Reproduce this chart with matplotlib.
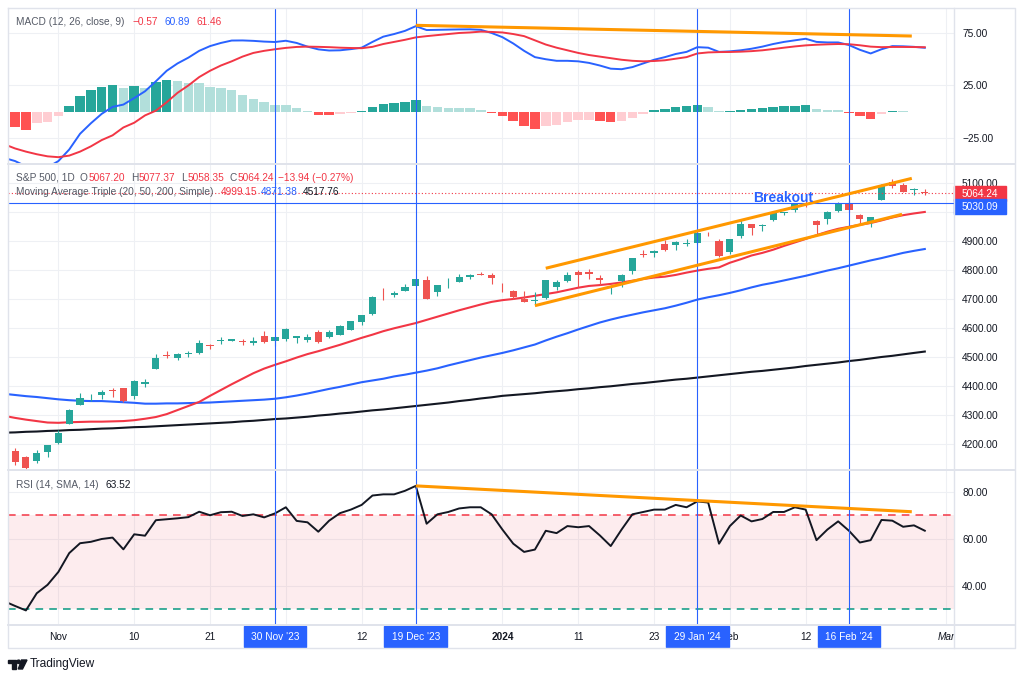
from __future__ import annotations

import matplotlib

matplotlib.use("Agg")
import matplotlib.pyplot as plt
import matplotlib.transforms as mtransforms
import pandas as pd
from matplotlib.patches import Circle, Polygon, Rectangle

plt.rcParams["font.family"] = ["Liberation Sans", "DejaVu Sans"]

# ---------------- data ----------------
holidays = ["2023-11-23", "2023-12-25", "2024-01-01", "2024-01-15", "2024-02-19"]
trading_days = [
    d for d in pd.bdate_range("2023-10-25", "2024-03-01").strftime("%Y-%m-%d") if d not in holidays
]

opens = [4232.42, 4175.99, 4152.93, 4139.39, 4171.33, 4201.27, 4268.26, 4334.23, 4364.27, 4366.21,
         4384.37, 4391.41, 4364.15, 4406.66, 4458.97, 4505.30, 4497.08, 4509.55, 4511.70, 4538.77,
         4553.04, 4555.84, 4554.86, 4545.55, 4571.84, 4554.87, 4559.43, 4564.37, 4557.25, 4586.23,
         4568.84, 4576.20, 4593.39, 4618.30, 4646.20, 4721.04, 4714.23, 4725.58, 4743.72, 4764.73,
         4724.29, 4753.92, 4758.86, 4773.45, 4786.44, 4782.88, 4745.20, 4725.07, 4697.42, 4690.57,
         4703.70, 4741.93, 4759.94, 4792.13, 4791.18, 4772.35, 4739.13, 4760.10, 4796.28, 4853.42,
         4856.80, 4888.56, 4886.66, 4888.91, 4892.95, 4925.89, 4899.19, 4861.11, 4916.06, 4957.19,
         4950.16, 4973.05, 4995.16, 5004.17, 5026.83, 4967.94, 4976.44, 5003.14, 5031.13, 4989.32,
         4963.03, 5038.83, 5100.92, 5093.00, 5074.60, 5067.20]
highs = [4232.42, 4183.60, 4156.70, 4177.47, 4194.97, 4245.64, 4319.72, 4373.62, 4372.21, 4386.26,
         4391.20, 4393.40, 4418.03, 4421.76, 4508.67, 4521.17, 4511.99, 4520.12, 4557.11, 4542.14,
         4568.43, 4560.31, 4562.41, 4568.14, 4587.64, 4569.89, 4599.39, 4572.37, 4578.56, 4590.74,
         4590.92, 4609.23, 4623.71, 4643.93, 4709.69, 4738.57, 4725.53, 4749.52, 4768.69, 4778.01,
         4748.71, 4772.94, 4784.72, 4785.39, 4793.30, 4788.43, 4754.33, 4729.29, 4726.78, 4721.49,
         4764.54, 4765.47, 4790.80, 4798.50, 4802.40, 4782.34, 4744.23, 4785.79, 4842.07, 4868.41,
         4866.48, 4903.68, 4898.15, 4906.69, 4929.31, 4931.09, 4906.75, 4906.97, 4975.29, 4957.19,
         4957.77, 4999.89, 5000.40, 5030.06, 5048.39, 4971.30, 5002.52, 5032.72, 5038.70, 4993.71,
         4983.21, 5094.39, 5111.06, 5097.66, 5080.69, 5077.37]
lows = [4181.42, 4127.90, 4103.78, 4132.94, 4153.12, 4197.74, 4268.26, 4334.23, 4347.53, 4355.41,
        4359.76, 4343.94, 4353.34, 4393.82, 4458.97, 4495.31, 4487.83, 4499.66, 4510.36, 4525.51,
        4545.05, 4552.80, 4540.51, 4540.51, 4547.15, 4537.24, 4554.71, 4546.72, 4551.68, 4546.50,
        4565.22, 4574.06, 4593.39, 4608.09, 4643.23, 4694.34, 4704.69, 4725.58, 4743.72, 4697.82,
        4708.35, 4736.77, 4758.45, 4768.90, 4780.98, 4751.99, 4722.67, 4699.71, 4687.53, 4682.11,
        4699.82, 4730.35, 4756.20, 4739.58, 4768.98, 4747.12, 4714.82, 4740.57, 4785.87, 4844.05,
        4844.37, 4865.94, 4869.34, 4881.47, 4887.40, 4916.27, 4845.15, 4853.52, 4907.99, 4918.09,
        4934.88, 4969.05, 4987.09, 5000.34, 5016.83, 4920.31, 4956.45, 4999.44, 4999.52, 4955.02,
        4946.00, 5038.83, 5081.46, 5068.91, 5057.29, 5058.35]
closes = [4186.77, 4137.23, 4117.37, 4166.82, 4193.80, 4237.86, 4317.78, 4358.34, 4365.98, 4378.38,
          4382.78, 4347.35, 4415.24, 4411.55, 4495.70, 4502.88, 4508.24, 4514.02, 4547.38, 4538.19,
          4556.62, 4559.34, 4550.43, 4554.89, 4550.58, 4567.80, 4594.63, 4569.78, 4567.18, 4549.34,
          4585.59, 4604.37, 4622.44, 4643.70, 4707.09, 4719.55, 4719.19, 4740.56, 4768.37, 4698.35,
          4746.75, 4754.63, 4774.75, 4781.58, 4783.35, 4769.83, 4742.83, 4704.81, 4688.68, 4697.24,
          4763.54, 4756.50, 4783.45, 4780.24, 4783.83, 4765.98, 4739.21, 4780.94, 4839.81, 4850.43,
          4864.60, 4868.55, 4894.16, 4890.97, 4927.93, 4924.97, 4845.65, 4906.19, 4958.61, 4942.81,
          4954.23, 4995.06, 4997.91, 5026.61, 5021.84, 4953.17, 5000.62, 5029.73, 5005.57, 4975.51,
          4981.80, 5087.03, 5088.80, 5069.53, 5078.18, 5064.24]

sma20 = [4296, 4289, 4283, 4278, 4273, 4272, 4274, 4275, 4276, 4276, 4277, 4278, 4281, 4286, 4292,
         4302, 4316, 4330, 4344, 4365, 4385, 4405, 4424, 4443, 4459, 4472, 4484, 4497, 4509, 4519,
         4530, 4541, 4553, 4565, 4576, 4588, 4598, 4607, 4616, 4627, 4638, 4649, 4660, 4670, 4680,
         4689, 4695, 4699, 4704, 4710, 4716, 4722, 4730, 4738, 4744, 4747, 4751, 4756, 4762, 4768,
         4773, 4776, 4782, 4790, 4797, 4803, 4808, 4824, 4836, 4849, 4858, 4869, 4882, 4894, 4906,
         4919, 4931, 4941, 4948, 4955, 4961, 4970, 4980, 4988, 4994, 4999.15]
sma50 = [4372, 4368, 4364, 4361, 4357, 4353, 4350, 4348, 4347, 4347, 4345, 4343, 4341, 4338, 4338,
         4339, 4339, 4340, 4341, 4342, 4344, 4346, 4348, 4350, 4352, 4355, 4360, 4366, 4373, 4381,
         4389, 4396, 4404, 4412, 4418, 4424, 4432, 4438, 4445, 4452, 4460, 4470, 4479, 4488, 4497,
         4505, 4513, 4522, 4532, 4542, 4556, 4569, 4581, 4594, 4606, 4618, 4628, 4637, 4645, 4653,
         4660, 4667, 4676, 4686, 4697, 4705, 4712, 4720, 4729, 4739, 4748, 4755, 4763, 4771, 4779,
         4788, 4797, 4805, 4814, 4823, 4832, 4840, 4849, 4858, 4865, 4871.38]
sma200 = [4238, 4239, 4241, 4242, 4244, 4245, 4247, 4248, 4250, 4252, 4253, 4255, 4257, 4258, 4260,
          4262, 4264, 4266, 4268, 4270, 4272, 4274, 4277, 4279, 4282, 4285, 4287, 4290, 4293, 4297,
          4300, 4304, 4307, 4311, 4315, 4318, 4322, 4326, 4330, 4334, 4338, 4342, 4347, 4351, 4356,
          4360, 4365, 4368, 4371, 4374, 4378, 4381, 4384, 4388, 4391, 4395, 4398, 4402, 4406, 4409,
          4413, 4417, 4421, 4424, 4428, 4432, 4436, 4440, 4444, 4448, 4451, 4455, 4459, 4463, 4468,
          4472, 4476, 4480, 4485, 4489, 4494, 4499, 4503, 4508, 4513, 4517.76]

macd_line = [-44, -47, -52, -55, -53, -47, -36, -21, -11, -2, 4.6, 6.8, 13, 19.5, 29, 39, 46, 51.5,
             58, 62.5, 65.5, 67.8, 67.9, 67.5, 66.8, 66.4, 67.6, 65.5, 62, 59.4, 58.3, 58.5, 59.6,
             61, 66.5, 71.5, 74, 77, 81.5, 77.8, 78, 78.2, 78.4, 78.5, 78, 75, 71, 65, 58, 52, 50,
             48.5, 48.5, 48, 46.5, 44, 41, 40.5, 42.5, 46, 49.5, 52, 55, 57, 61.5, 61, 57, 57.5,
             58.5, 60, 62, 64.5, 66.5, 68, 69.5, 66.5, 66, 66, 63.5, 59, 55.5, 59.5, 62.5, 62.3,
             61.8, 60.89]
signal_line = [-31, -35, -38, -40.5, -42.5, -43.3, -41.8, -38, -33, -27, -22.5, -15, -10.5, -3.5,
               1, 9, 18, 25, 33, 39, 44, 48, 52.5, 56, 58, 59.5, 60.8, 61.7, 62, 61.8, 61.5, 61,
               60.7, 60.5, 61.8, 64.5, 66.5, 68.5, 70.8, 72, 73, 74, 75, 75.5, 76.3, 76, 75.5, 74,
               72, 68, 64, 61, 58.5, 56, 54, 52.5, 51, 49.5, 48.5, 48, 48.3, 49, 50.5, 52, 55.5,
               56.5, 56.8, 56.9, 57.2, 57.7, 58.5, 59.7, 61, 62.2, 63.2, 63.8, 64.2, 64.5, 64.3,
               63.3, 62, 61.5, 61.7, 61.7, 61.6, 61.46]
macd_hist = [-12, -15, -17, -11, -10, -4, 5.5, 15, 20.7, 23.9, 25.5, 22.9, 24.5, 22.9, 28, 30.2,
             29.3, 27.7, 27, 23.9, 22.3, 20.7, 16, 12.4, 9.3, 6.4, 6.3, 3.2, 1, -3.1, -3.3, -2,
             -1.5, 1, 4.8, 7.4, 8.6, 9.6, 11.2, 5.5, 4.3, 3.5, 3.3, 3.1, 1.7, -1, -4.5, -9, -14,
             -16, -14, -12.5, -10, -8, -7.5, -8.5, -10, -9, -6, -2, 1.2, 3, 4.5, 5, 6, 4.5, 0.3,
             0.6, 1.3, 2.3, 3.5, 4.8, 5.5, 5.8, 6.3, 2.7, 1.8, 1.5, -0.8, -4.3, -6.5, -2, 0.8,
             0.6, 0.2, -0.57]
rsi = [33.5, 31.5, 29.6, 36.9, 40.5, 46, 54, 58.2, 58.8, 60, 60.6, 55.6, 62, 61.4, 68, 68.4, 68.8,
       69.3, 71.6, 70.1, 71.4, 71.6, 69.8, 70.5, 69.2, 70.9, 73.5, 67.7, 67.1, 63.1, 67.8, 71,
       72.5, 74.5, 78.5, 79, 79, 80.5, 82.6, 66.5, 70.5, 71.5, 73, 73.5, 73.5, 70.5, 64, 58,
       54.5, 55.5, 63.5, 62.5, 65.5, 65, 65.5, 61.5, 57, 64, 70.5, 71.5, 72.5, 72.5, 74.5, 73.5,
       76, 75.5, 58, 65.5, 70, 67.5, 68.5, 71.5, 71.5, 73.5, 72.5, 59.5, 64, 67.5, 63.5, 58.5,
       59.5, 68.1, 67.8, 65.2, 65.8, 63.52]

# "Dec" sits under the 30 Nov marker box in the reference, so it is left out
tick_days = ["2023-11-01", "2023-11-10", "2023-11-21", "2023-12-12", "2024-01-02",
             "2024-01-11", "2024-01-23", "2024-02-01", "2024-02-12", "2024-03-01"]
tick_labels = ["Nov", "10", "21", "12", "2024", "11", "23", "Feb", "12", "Mar"]
grid_days = tick_days + ["2023-12-01"]
marker_days = ["2023-11-30", "2023-12-19", "2024-01-29", "2024-02-16"]
marker_labels = ["30 Nov '23", "19 Dec '23", "29 Jan '24", "16 Feb '24"]

breakout_level = 5030.09
breakout_label_x = 71.9
# hand-drawn trend lines: bar positions and values
channel_upper_x, channel_upper_y = [50.0, 83.8], [4805, 5115]
channel_lower_x, channel_lower_y = [49.0, 82.9], [4676, 4991]
macd_trend_x, macd_trend_y = [38.0, 83.8], [82.3, 72.1]
rsi_trend_x, rsi_trend_y = [38.0, 83.8], [82.6, 71.6]

# ---------------- style ----------------
W, H = 1024, 680
LEFT, RIGHT = 8, 954
X0, DX = 4.25, 10.83
XMIN, XMAX = (LEFT - X0) / DX, (RIGHT - X0) / DX
UP, DOWN = "#26a69a", "#ef5350"
RED, BLUE, ORANGE = "#f23645", "#2962ff", "#ff9800"
TEXT, LBL, GRID, FRAME = "#131722", "#555a66", "#eef0f4", "#e0e3eb"
FS = 7.3

pos = {d: i for i, d in enumerate(trading_days)}
bars = list(range(len(closes)))
tick_x = [pos[d] for d in tick_days]
grid_x = [pos[d] for d in grid_days]
marker_x = [pos[d] for d in marker_days]

fig = plt.figure(figsize=(W / 100, H / 100), dpi=100)
fig.patch.set_facecolor("white")


def fmt(v):
    return f"{v:.2f}".replace("-", "\u2212")


def panel(top, bottom, ylim, yticks, hidden=()):
    ax = fig.add_axes([LEFT / W, 1 - bottom / H, (RIGHT - LEFT) / W, (bottom - top) / H])
    ax.set_xlim(XMIN, XMAX)
    ax.set_ylim(*ylim)
    ax.set_xticks(grid_x)
    ax.set_yticks(yticks)
    ax.set_yticklabels(["" if v in hidden else fmt(v) for v in yticks])
    ax.yaxis.tick_right()
    ax.tick_params(axis="y", length=0, pad=5.8, labelsize=FS, labelcolor=TEXT)
    ax.tick_params(axis="x", length=0, labelbottom=False)
    ax.grid(True, color=GRID, lw=0.8)
    ax.set_axisbelow(True)
    for s in ax.spines.values():
        s.set_visible(False)
    for x in marker_x:
        ax.axvline(x, color=BLUE, lw=0.8, zorder=4)
    return ax


# MACD panel
ax_m = panel(8, 164, (-49.8, 98.8), [75, 25, -25])
prev = -13
hist_cols = []
for v in macd_hist:
    if v >= 0:
        hist_cols.append(UP if v > prev else "#b2dfdb")
    else:
        hist_cols.append("#ffcdd2" if v > prev else "#ff5252")
    prev = v
ax_m.bar(bars, macd_hist, width=0.88, color=hist_cols, zorder=2)
ax_m.plot(bars, macd_line, color=BLUE, lw=1.4, zorder=3)
ax_m.plot(bars, signal_line, color=RED, lw=1.4, zorder=3)
ax_m.plot(macd_trend_x, macd_trend_y, color=ORANGE, lw=2.2, zorder=5, solid_capstyle="butt")

# price panel (5000.00 is covered by the blue breakout label in the reference)
ax_p = panel(164, 470, (4109.3, 5164.5), list(range(4200, 5101, 100)), hidden=(5000,))
ax_p.plot(bars, sma200, color=TEXT, lw=1.5, zorder=2)
ax_p.plot(bars, sma50, color=BLUE, lw=1.5, zorder=2)
ax_p.plot(bars, sma20, color=RED, lw=1.5, zorder=2)
for k in bars:
    o, h, l, c = opens[k], highs[k], lows[k], closes[k]
    col = UP if c >= o else DOWN
    ax_p.vlines(k, l, h, color=col, lw=0.8, zorder=3)
    ax_p.bar(k, max(abs(c - o), 1.5), bottom=min(o, c), width=0.66, color=col, zorder=3)
ax_p.plot(channel_upper_x, channel_upper_y, color=ORANGE, lw=2.2, zorder=5, solid_capstyle="butt")
ax_p.plot(channel_lower_x, channel_lower_y, color=ORANGE, lw=2.2, zorder=5, solid_capstyle="butt")
ax_p.axhline(breakout_level, color=BLUE, lw=0.8, zorder=4)
ax_p.axhline(closes[-1], color=RED, lw=0.8, ls=(0, (1, 2)), zorder=4)
ax_p.text(breakout_label_x, breakout_level + 5, "Breakout", color=BLUE, fontsize=10,
          fontweight="bold", ha="center", va="baseline", zorder=6)

blend = mtransforms.blended_transform_factory(ax_p.transAxes, ax_p.transData)
for level, col, shift in [(closes[-1], RED, -0.5), (breakout_level, BLUE, -3.6)]:
    tr = mtransforms.offset_copy(blend, fig=fig, y=shift, units="dots")
    ax_p.add_patch(Rectangle((1.0, level - 25), 52 / 946, 50, transform=tr, color=col,
                             clip_on=False, zorder=7))
    ax_p.text(1.0 + 26 / 946, level, f"{level:.2f}", transform=tr, color="white", fontsize=FS,
              ha="center", va="center", clip_on=False, zorder=8)

# RSI panel
ax_r = panel(470, 625, (23.4, 89.36), [80, 60, 40])
ax_r.axhspan(30, 70, color=RED, alpha=0.09, lw=0, zorder=1)
ax_r.axhline(70, color=RED, lw=1.1, dashes=(5, 4), zorder=2)
ax_r.axhline(30, color="#089981", lw=1.1, dashes=(5, 4), zorder=2)
ax_r.plot(bars, rsi, color=TEXT, lw=1.4, zorder=3)
ax_r.plot(rsi_trend_x, rsi_trend_y, color=ORANGE, lw=2.2, zorder=5, solid_capstyle="butt")

# time strip
ax_t = fig.add_axes([LEFT / W, 1 - 648 / H, (RIGHT - LEFT) / W, 23 / H])
ax_t.set_xlim(XMIN, XMAX)
ax_t.set_ylim(0, 1)
ax_t.axis("off")
for x, lab in zip(tick_x, tick_labels):
    ax_t.text(x, 0.5, lab, ha="center", va="center", fontsize=FS, color=TEXT, clip_on=True,
              fontweight="bold" if lab == "2024" else "normal",
              fontstyle="italic" if lab == "Mar" else "normal")
for x, lab in zip(marker_x, marker_labels):
    ax_t.add_patch(Rectangle((x - 2.9, 0.04), 5.8, 0.92, color=BLUE, zorder=5))
    ax_t.text(x, 0.5, lab, ha="center", va="center", fontsize=FS, color="white", zorder=6)

# legends
renderer = fig.canvas.get_renderer()


def chain(x, y, parts):
    for s, col, gap in parts:
        t = fig.text(x / W, 1 - y / H, s, color=col, fontsize=FS, ha="left", va="center")
        x = t.get_window_extent(renderer).x1 + gap


chain(16, 22, [("MACD (12, 26, close, 9)", LBL, 8), (fmt(macd_hist[-1]), RED, 7),
               (fmt(macd_line[-1]), BLUE, 6), (fmt(signal_line[-1]), RED, 0)])
chg = closes[-1] - closes[-2]
chain(16, 178, [("S&P 500, 1D", LBL, 5), ("O", LBL, 0.5), (fmt(opens[-1]), RED, 6),
                ("H", LBL, 0.5), (fmt(highs[-1]), RED, 6), ("L", LBL, 0.5), (fmt(lows[-1]), RED, 6),
                ("C", LBL, 0.5), (fmt(closes[-1]), RED, 4),
                (f"{fmt(chg)} ({fmt(chg / closes[-2] * 100)}%)", RED, 0)])
chain(16, 192, [("Moving Average Triple (20, 50, 200, Simple)", LBL, 7), (fmt(sma20[-1]), RED, 4),
                (fmt(sma50[-1]), BLUE, 5), (fmt(sma200[-1]), TEXT, 0)])
chain(16, 485, [("RSI (14, SMA, 14)", LBL, 7), (fmt(rsi[-1]), TEXT, 0)])

# frame, separators and logo
ov = fig.add_axes([0, 0, 1, 1], zorder=10)
ov.set_xlim(0, W)
ov.set_ylim(H, 0)
ov.axis("off")
ov.patch.set_alpha(0)
ov.plot([8, 1015, 1015, 8, 8], [8, 8, 648, 648, 8], color=FRAME, lw=1)
ov.plot([RIGHT, RIGHT], [8, 648], color=FRAME, lw=1)
for y in (164, 470, 625):
    ov.plot([8, 1015], [y, y], color=FRAME, lw=1.4)
ov.add_patch(Polygon([(8, 660), (15.5, 660), (15.5, 669), (12, 669), (12, 663.2), (8, 663.2)],
                     color=TEXT))
ov.add_patch(Circle((18.6, 661.8), 1.7, color=TEXT))
ov.add_patch(Polygon([(21.5, 660), (27, 660), (22.5, 669), (18.3, 669)], color=TEXT))
ov.text(30, 664.5, "TradingView", fontsize=8.6, color=TEXT, ha="left", va="center")

fig.savefig("out.png", dpi=100)
plt.close(fig)
